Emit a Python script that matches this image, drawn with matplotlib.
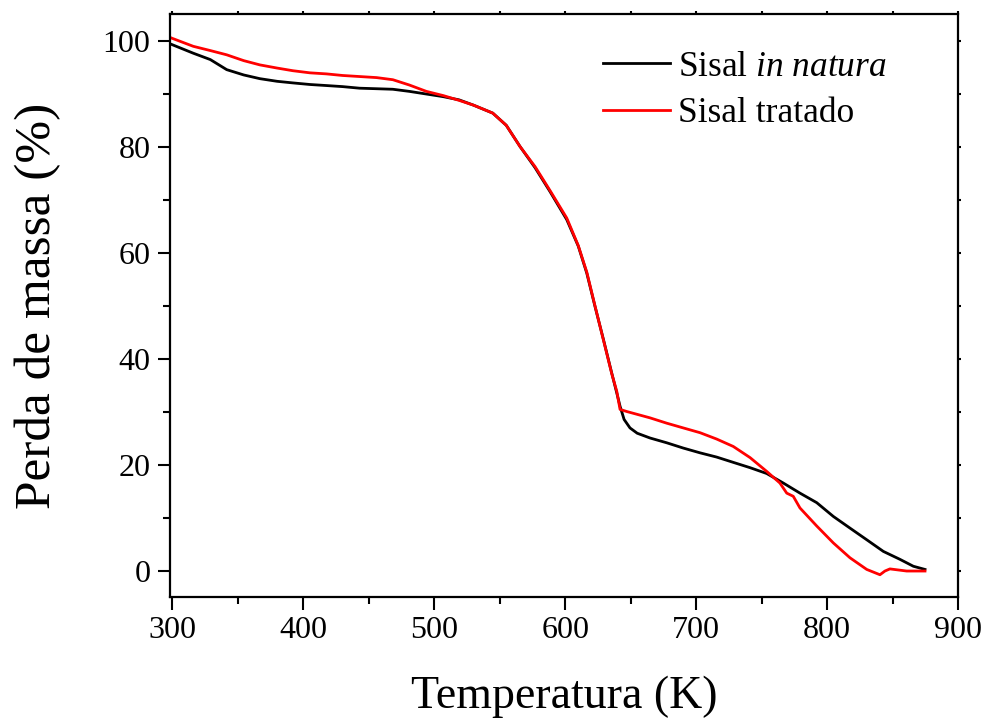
import matplotlib
matplotlib.use("Agg")
import matplotlib.pyplot as plt
from matplotlib.ticker import MultipleLocator

plt.rcParams['font.family'] = ['Liberation Serif', 'DejaVu Serif']
plt.rcParams['mathtext.fontset'] = 'custom'
plt.rcParams['mathtext.rm'] = 'Liberation Serif'
plt.rcParams['mathtext.it'] = 'Liberation Serif:italic'

# Sisal in natura (black)
T_natura = [298, 300, 316, 329, 341.5, 354.5, 366.8, 380, 392, 405, 417.7, 430, 443, 456, 468.4, 481, 494,
            507, 519, 530, 544.7, 555, 565.5, 577, 588.4, 601.2, 610, 616.5, 622.8, 629.2, 635.5, 639.4,
            641.9, 645, 649.5, 655, 664.8, 677.5, 690.2, 703, 715.7, 728.4, 741.2, 753.9, 766.6, 779.3,
            792.1, 804.8, 817.5, 830.3, 843, 855.7, 865.9, 874.8]
m_natura = [99.4, 99.2, 97.6, 96.4, 94.5, 93.5, 92.8, 92.3, 92.0, 91.7, 91.5, 91.3, 91.0, 90.9, 90.8, 90.4, 89.9,
            89.4, 88.8, 87.8, 86.3, 84.0, 80.0, 76.0, 71.5, 66.2, 61.2, 56.1, 49.8, 43.6, 37.3, 33.5,
            31.0, 28.5, 26.9, 25.9, 25.0, 24.1, 23.1, 22.2, 21.4, 20.4, 19.4, 18.3, 16.5, 14.6,
            12.8, 10.2, 8.0, 5.8, 3.6, 2.1, 0.8, 0.2]

# Sisal tratado (red)
T_tratado = [298, 300, 316, 329, 341.5, 354.5, 366.8, 380, 392, 405, 417.7, 430, 443, 456, 468.4, 481, 494,
             507, 519, 530, 544.7, 555, 565.5, 577, 588.4, 601.2, 610, 616.5, 622.8, 629.2, 635.5, 639.4,
             641.9, 647, 664.8, 677.5, 690.2, 703, 715.7, 728.4, 741.2, 753.9, 764, 769.2, 774.2, 779.3,
             792.1, 804.8, 817.5, 830.3, 840.4, 844.2, 848, 860.8, 874.8]
m_tratado = [100.6, 100.4, 98.9, 98.1, 97.3, 96.2, 95.4, 94.8, 94.3, 93.9, 93.7, 93.4, 93.2, 93.0, 92.6, 91.6, 90.4,
             89.6, 88.7, 87.8, 86.3, 84.0, 80.0, 76.2, 71.7, 66.5, 61.3, 56.3, 49.9, 43.5, 37.2, 33.8,
             30.4, 30.0, 28.8, 27.8, 26.9, 26.0, 24.8, 23.4, 21.3, 18.7, 16.5, 14.6, 14.0, 11.8,
             8.4, 5.2, 2.4, 0.2, -0.8, -0.1, 0.3, -0.1, -0.1]

label_natura = r'Sisal $\mathit{in\ natura}$'
label_tratado = 'Sisal tratado'

fig = plt.figure(figsize=(9.87, 7.2), dpi=100)
ax = fig.add_axes([170/987, 1-597/720, (958-170)/987, (597-14)/720])

ax.plot(T_natura, m_natura, color='black', lw=2.0, label=label_natura)
ax.plot(T_tratado, m_tratado, color='#ff0000', lw=2.0, label=label_tratado)

ax.set_xlim(298.2, 900)
ax.set_ylim(-5, 105)
ax.xaxis.set_major_locator(MultipleLocator(100))
ax.xaxis.set_minor_locator(MultipleLocator(50))
ax.yaxis.set_major_locator(MultipleLocator(20))
ax.yaxis.set_minor_locator(MultipleLocator(10))

for s in ax.spines.values():
    s.set_linewidth(1.6)

ax.tick_params(which='both', direction='out', width=1.5, labelsize=23,
               top=True, right=True)
ax.tick_params(which='major', length=9, pad=5)
ax.tick_params(which='minor', length=5)
for t in ax.xaxis.get_major_ticks() + ax.xaxis.get_minor_ticks():
    t.tick2line.set_markersize(2)
for t in ax.yaxis.get_major_ticks() + ax.yaxis.get_minor_ticks():
    t.tick2line.set_markersize(2)

ax.set_xlabel('Temperatura (K)', fontsize=33, labelpad=22)
ax.set_ylabel('Perda de massa (%)', fontsize=37, labelpad=30)

leg = ax.legend(loc='upper left', bbox_to_anchor=(0.549, 0.937), frameon=False,
                fontsize=25.5, handlelength=1.9, handletextpad=0.22, labelspacing=0.38,
                borderpad=0, borderaxespad=0)

fig.savefig('out.png', dpi=100)
